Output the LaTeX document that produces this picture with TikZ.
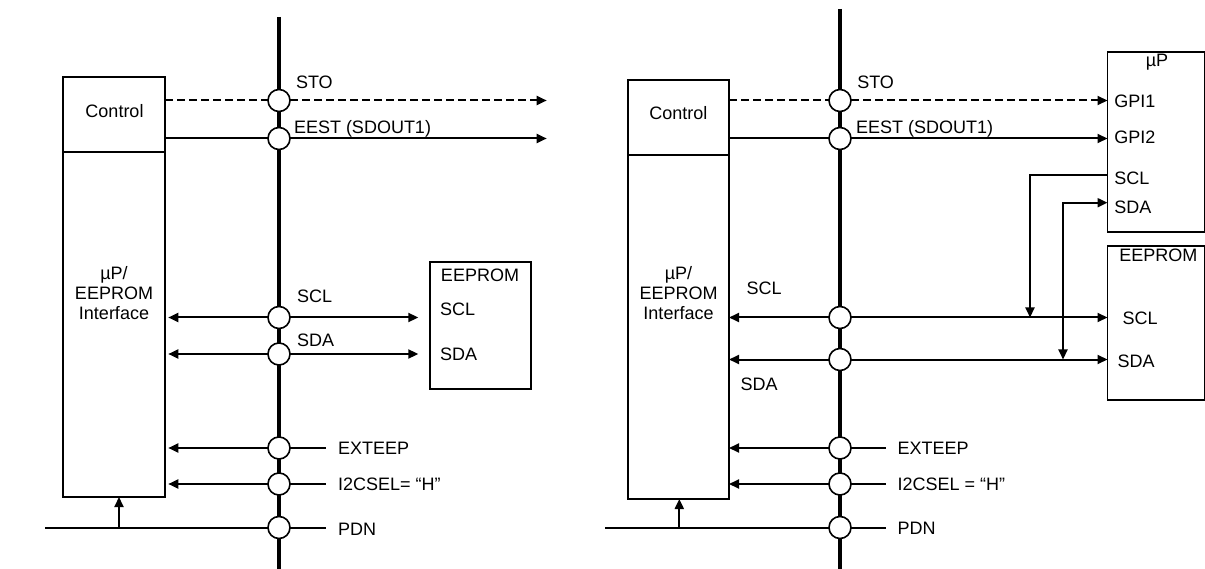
\documentclass[tikz,border=0pt]{standalone}
\usepackage{fontspec}
\setmainfont{Liberation Sans}
\usetikzlibrary{arrows.meta}
\begin{document}
\begin{tikzpicture}[x=1pt,y=-1pt,
  font=\fontsize{18}{20}\selectfont,
  >={Triangle[length=10pt,width=9pt]},
  box/.style={draw, line width=1.3pt, inner sep=0pt, outer sep=0pt},
  port/.style={circle, draw, fill=white, line width=1.6pt, minimum size=22pt, inner sep=0pt, outer sep=0pt},
  sig/.style={line width=2pt},
  bus/.style={line width=3.2pt},
  dsh/.style={dash pattern=on 7.5pt off 4.5pt},
  lbl/.style={inner sep=0pt, outer sep=0pt, anchor=base west},
  clbl/.style={inner sep=0pt, outer sep=0pt, anchor=base},
  mlbl/.style={inner sep=0pt, outer sep=0pt, anchor=north, align=center}]
\useasboundingbox (0,0) rectangle (1205,569);

% ================= LEFT DIAGRAM =================
\node[box, minimum width=102pt, minimum height=75pt] (ctrlL) at (114,114.5) {};
\node[box, minimum width=102pt, minimum height=345pt] (ifL) at (114,324.5) {};
\node[box, minimum width=101pt, minimum height=127pt] (eepL) at (480.5,325.5) {};
\node[clbl] (ctrlLt) at (114.5,117.3) {Control};
\node[mlbl] (ifLt) at (114,266) {µP/\\EEPROM\\Interface};
\node[clbl] (eepLt) at (480,281.7) {EEPROM};
\node[lbl] (eepLscl) at (440,316) {SCL};
\node[lbl] (eepLsda) at (440,360) {SDA};

\foreach \n/\y in {1/100.5,2/138.5,3/317.5,4/354,5/448,6/484,7/527.5}
  \node[port] (pL\n) at (279,\y) {};
\coordinate (busLt) at (279,17);
\coordinate (busLb) at (279,569);
\draw[bus] (busLt) -- (pL1) -- (pL2) -- (pL3) -- (pL4) -- (pL5) -- (pL6) -- (pL7) -- (busLb);

\coordinate (stoL) at (546.7,100.5);
\coordinate (eestL) at (546.7,138.5);
\draw[sig,dsh] (ctrlL.east |- pL1) -- (pL1);
\draw[sig,dsh,->] (pL1) -- (stoL);
\draw[sig] (ctrlL.east |- pL2) -- (pL2);
\draw[sig,->] (pL2) -- (eestL);

\coordinate (sclLb) at (418.3,317.5);
\coordinate (sdaLb) at (418.3,354);
\draw[sig,->] (pL3) -- ([xshift=3.3pt]ifL.east |- pL3);
\draw[sig,->] (pL3) -- (sclLb);
\draw[sig,->] (pL4) -- ([xshift=3.3pt]ifL.east |- pL4);
\draw[sig,->] (pL4) -- (sdaLb);

\coordinate (extL) at (326,448);
\coordinate (i2cL) at (326,484);
\coordinate (pdnLr) at (326,527.5);
\coordinate (pdnLl) at (45,527.5);
\coordinate (upL) at (119,527.5);
\draw[sig,->] (pL5) -- ([xshift=3.3pt]ifL.east |- pL5);
\draw[sig] (pL5) -- (extL);
\draw[sig,->] (pL6) -- ([xshift=3.3pt]ifL.east |- pL6);
\draw[sig] (pL6) -- (i2cL);
\draw[sig] (pdnLl) -- (pL7);
\draw[sig] (pL7) -- (pdnLr);
\draw[sig,->] (upL) -- (upL |- ifL.south);

\node[lbl] (stoLt) at (296,88.3) {STO};
\node[lbl] (eestLt) at (294,134) {EEST (SDOUT1)};
\node[lbl] (sclLt) at (297,303) {SCL};
\node[lbl] (sdaLt) at (297,346.7) {SDA};
\node[lbl] (extLt) at (338,454) {EXTEEP};
\node[lbl] (i2cLt) at (338,490) {I2CSEL= “H”};
\node[lbl] (pdnLt) at (338,535) {PDN};

% ================= RIGHT DIAGRAM =================
\node[box, minimum width=101pt, minimum height=75pt] (ctrlR) at (678.5,117.5) {};
\node[box, minimum width=101pt, minimum height=344pt] (ifR) at (678.5,327) {};
\node[box, minimum width=97pt, minimum height=180pt] (upR) at (1156,142) {};
\node[box, minimum width=97pt, minimum height=154pt] (eepR) at (1156,323) {};
\node[clbl] (ctrlRt) at (678.3,120) {Control};
\node[mlbl] (ifRt) at (678.5,266) {µP/\\EEPROM\\Interface};
\node[clbl] (upRt) at (1157,67) {µP};
\node[lbl] (gpi1) at (1114.3,107.3) {GPI1};
\node[lbl] (gpi2) at (1114.3,144) {GPI2};
\node[lbl] (upscl) at (1114.3,185) {SCL};
\node[lbl] (upsda) at (1114.3,213.3) {SDA};
\node[lbl] (eepRt) at (1119.3,261.7) {EEPROM};
\node[lbl] (eepRscl) at (1122.7,325) {SCL};
\node[lbl] (eepRsda) at (1117.7,367.3) {SDA};

\foreach \n/\y in {1/100.5,2/138.5,3/317.5,4/359.5,5/448,6/484,7/527.5}
  \node[port] (pR\n) at (840,\y) {};
\coordinate (busRt) at (840,9);
\coordinate (busRb) at (840,569);
\draw[bus] (busRt) -- (pR1) -- (pR2) -- (pR3) -- (pR4) -- (pR5) -- (pR6) -- (pR7) -- (busRb);

\draw[sig,dsh] (ctrlR.east |- pR1) -- (pR1);
\draw[sig,dsh,->] (pR1) -- (upR.west |- pR1);
\draw[sig] (ctrlR.east |- pR2) -- (pR2);
\draw[sig,->] (pR2) -- (upR.west |- pR2);

\draw[sig,->] (pR3) -- (ifR.east |- pR3);
\draw[sig,->] (pR3) -- (eepR.west |- pR3);
\draw[sig,->] (pR4) -- (ifR.east |- pR4);
\draw[sig,->] (pR4) -- (eepR.west |- pR4);

\coordinate (sclJ) at (1030,317.5);
\coordinate (sclK) at (1030,175);
\coordinate (sdaJ) at (1063,359.5);
\coordinate (sdaK) at (1063,202.7);
\draw[sig,->] (upR.west |- sclK) -- (sclK) -- (sclJ);
\draw[sig,<->] (sdaJ) -- (sdaK) -- (upR.west |- sdaK);

\coordinate (extR) at (885.7,448);
\coordinate (i2cR) at (885.7,484);
\coordinate (pdnRr) at (885.7,527.5);
\coordinate (pdnRl) at (605,527.5);
\coordinate (upRa) at (679.3,527.5);
\draw[sig,->] (pR5) -- (ifR.east |- pR5);
\draw[sig] (pR5) -- (extR);
\draw[sig,->] (pR6) -- (ifR.east |- pR6);
\draw[sig] (pR6) -- (i2cR);
\draw[sig] (pdnRl) -- (pR7);
\draw[sig] (pR7) -- (pdnRr);
\draw[sig,->] (upRa) -- (upRa |- ifR.south);

\node[lbl] (stoRt) at (857.3,88.3) {STO};
\node[lbl] (eestRt) at (856,134) {EEST (SDOUT1)};
\node[lbl] (sclRt) at (746.7,295) {SCL};
\node[lbl] (sdaRt) at (740.7,390) {SDA};
\node[lbl] (extRt) at (897.7,454) {EXTEEP};
\node[lbl] (i2cRt) at (897.7,490.5) {I2CSEL = “H”};
\node[lbl] (pdnRt) at (897.7,534) {PDN};
\end{tikzpicture}
\end{document}
